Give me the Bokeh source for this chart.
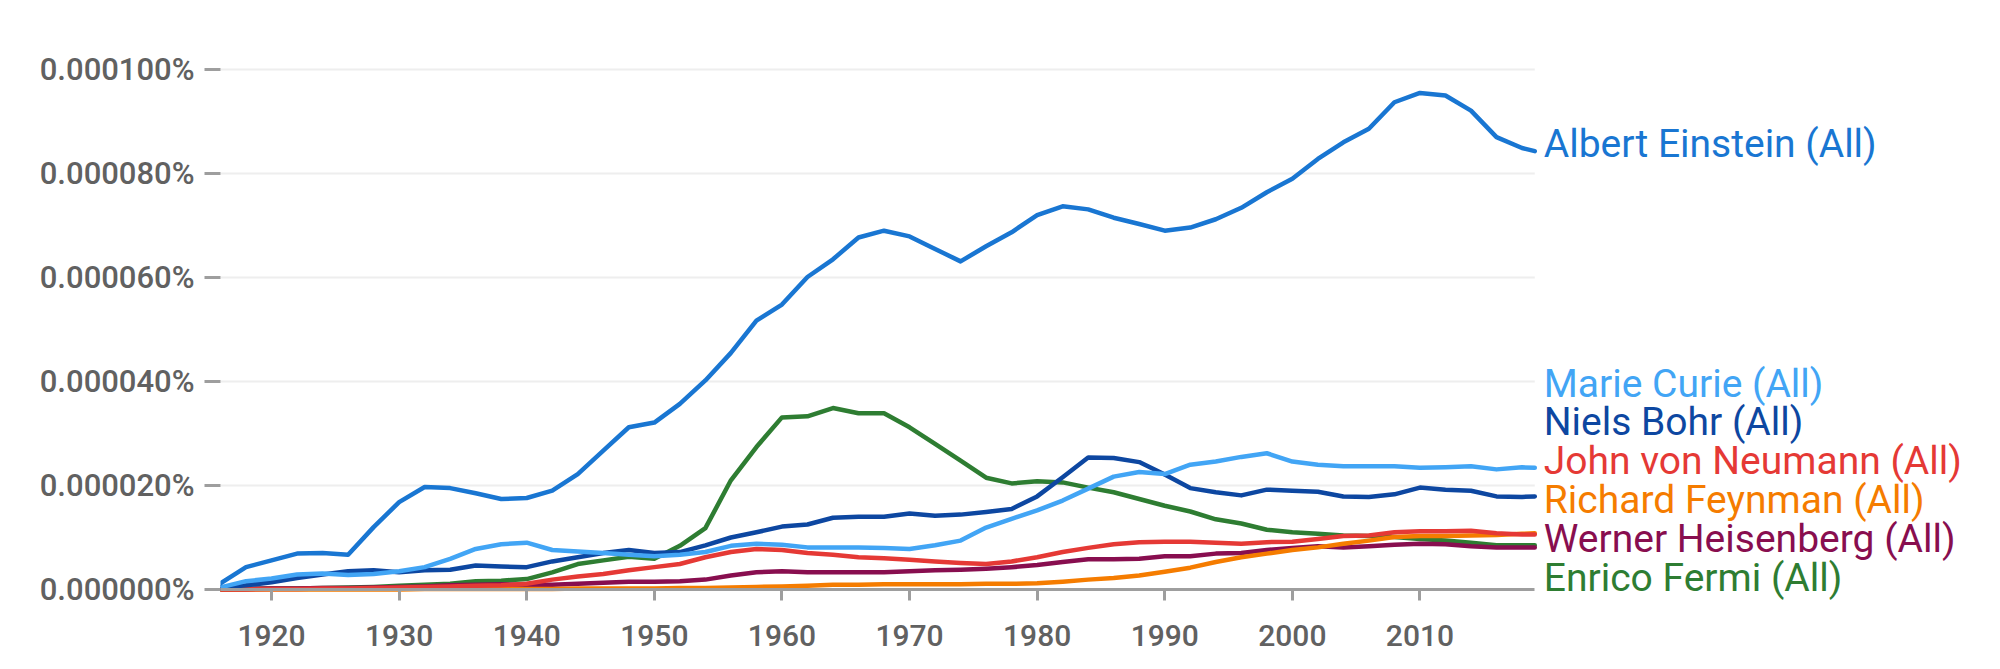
from bokeh.plotting import figure
from bokeh.models import Range1d, Label, PrintfTickFormatter, FixedTicker
from bokeh.embed import file_html
from bokeh.resources import INLINE

# values in units of 1e-6 percent (0.000001%)
years = list(range(1916, 2019, 2)) + [2019]

einstein = [1.2, 4.3, 5.6, 6.9, 7.0, 6.7, 12.0, 16.8, 19.7, 19.5,
            18.5, 17.4, 17.6, 19.0, 22.2, 26.7, 31.2, 32.1, 35.7, 40.2,
            45.5, 51.7, 54.8, 60.1, 63.5, 67.7, 69.0, 67.9, 65.5, 63.1,
            66.0, 68.7, 72.0, 73.7, 73.1, 71.5, 70.3, 69.0, 69.6, 71.2,
            73.4, 76.4, 79.0, 82.8, 86.0, 88.6, 93.7, 95.5, 95.0, 92.1,
            87.0, 84.9, 84.3]
curie = [0.4, 1.6, 2.1, 2.9, 3.1, 2.8, 3.0, 3.5, 4.3, 5.9,
         7.8, 8.7, 9.0, 7.6, 7.3, 7.0, 6.7, 6.4, 6.7, 7.2,
         8.4, 8.8, 8.6, 8.1, 8.1, 8.1, 8.0, 7.8, 8.5, 9.4,
         11.9, 13.6, 15.2, 17.1, 19.4, 21.7, 22.6, 22.2, 24.0, 24.6,
         25.5, 26.2, 24.6, 24.0, 23.7, 23.7, 23.7, 23.4, 23.5, 23.7,
         23.1, 23.5, 23.4]
bohr = [0.4, 0.8, 1.4, 2.2, 2.9, 3.5, 3.7, 3.3, 3.7, 3.8,
        4.6, 4.4, 4.3, 5.4, 6.2, 7.0, 7.6, 7.0, 7.2, 8.5,
        10.0, 11.0, 12.1, 12.5, 13.8, 14.0, 14.0, 14.6, 14.2, 14.4,
        14.9, 15.5, 17.9, 21.6, 25.4, 25.3, 24.5, 22.1, 19.5, 18.7,
        18.1, 19.2, 19.0, 18.8, 17.9, 17.8, 18.3, 19.6, 19.2, 19.0,
        17.9, 17.8, 17.9]
neumann = [0.0, 0.0, 0.1, 0.1, 0.2, 0.2, 0.3, 0.4, 0.5, 0.6,
           0.7, 0.8, 1.1, 1.9, 2.5, 3.0, 3.7, 4.3, 4.9, 6.2,
           7.2, 7.8, 7.6, 7.0, 6.7, 6.2, 6.0, 5.7, 5.4, 5.1,
           4.9, 5.4, 6.2, 7.2, 8.0, 8.7, 9.1, 9.2, 9.2, 9.0,
           8.8, 9.1, 9.2, 9.7, 10.3, 10.4, 11.0, 11.2, 11.2, 11.3,
           10.8, 10.6, 10.6]
feynman = [0.0, 0.0, 0.0, 0.0, 0.0, 0.0, 0.0, 0.0, 0.1, 0.1,
           0.1, 0.1, 0.1, 0.1, 0.2, 0.2, 0.2, 0.2, 0.3, 0.3,
           0.4, 0.5, 0.6, 0.7, 0.9, 0.9, 1.0, 1.0, 1.0, 1.0,
           1.1, 1.1, 1.2, 1.5, 1.9, 2.2, 2.7, 3.4, 4.2, 5.3,
           6.2, 6.9, 7.6, 8.1, 8.8, 9.4, 10.1, 10.3, 10.3, 10.4,
           10.5, 10.7, 10.8]
heisenberg = [0.0, 0.1, 0.2, 0.2, 0.3, 0.3, 0.4, 0.5, 0.6, 0.8,
              0.9, 1.0, 0.9, 0.9, 1.1, 1.3, 1.5, 1.5, 1.6, 1.9,
              2.7, 3.3, 3.5, 3.3, 3.3, 3.3, 3.3, 3.5, 3.7, 3.8,
              4.0, 4.3, 4.7, 5.3, 5.8, 5.8, 5.9, 6.4, 6.4, 6.9,
              7.0, 7.6, 8.0, 8.3, 8.1, 8.3, 8.6, 8.8, 8.7, 8.3,
              8.1, 8.1, 8.1]
fermi = [0.0, 0.1, 0.2, 0.2, 0.3, 0.4, 0.5, 0.7, 0.9, 1.1,
         1.6, 1.7, 2.0, 3.3, 4.9, 5.6, 6.3, 5.9, 8.4, 11.8,
         21.0, 27.4, 33.1, 33.3, 34.9, 33.9, 33.9, 31.2, 28.0, 24.8,
         21.5, 20.4, 20.8, 20.6, 19.6, 18.7, 17.4, 16.1, 15.0, 13.5,
         12.7, 11.5, 11.0, 10.7, 10.4, 10.3, 10.1, 9.7, 9.4, 9.0,
         8.5, 8.5, 8.5]

names = ["Albert Einstein (All)", "Marie Curie (All)", "Niels Bohr (All)",
         "John von Neumann (All)", "Richard Feynman (All)",
         "Werner Heisenberg (All)", "Enrico Fermi (All)"]
series = [einstein, curie, bohr, neumann, feynman, heisenberg, fermi]
colors = ["#1976D2", "#42A5F5", "#0D47A1", "#E53935", "#F57C00", "#880E4F", "#2E7D32"]

x_ticks = [1920, 1930, 1940, 1950, 1960, 1970, 1980, 1990, 2000, 2010]
y_ticks_units = [0, 20, 40, 60, 80, 100]

UNIT = 1e-6  # one unit = 0.000001 %

W, H = 1984, 653
LEFT, RIGHT, TOP, ZERO_Y, BOTTOM = 220, 10, 40, 589, 4   # page pixels
PX_PER_YEAR = 12.76
PX_PER_UNIT = 5.2
x0 = years[0]
x_end = x0 + (W - RIGHT - LEFT) / PX_PER_YEAR      # frame extends past the data for labels
y_top = (ZERO_Y - TOP) / PX_PER_UNIT
y_bot = -(H - BOTTOM - ZERO_Y) / PX_PER_UNIT        # room below zero for the x axis labels

p = figure(width=W, height=H, output_backend="svg", toolbar_location=None,
           x_range=Range1d(x0, x_end), y_range=Range1d(y_bot * UNIT, y_top * UNIT),
           min_border_left=LEFT, min_border_right=RIGHT, min_border_top=TOP,
           min_border_bottom=BOTTOM)
p.outline_line_color = None
p.background_fill_color = "white"
p.border_fill_color = "white"

tick_font = "'Roboto Medium', Roboto"
tick_color = "#616161"
grey = "#9E9E9E"

# horizontal grid lines only across the data span
for t in y_ticks_units[1:]:
    p.segment(x0=[years[0]], y0=[t * UNIT], x1=[years[-1]], y1=[t * UNIT],
              line_color="#EEEEEE", line_width=2)

# draw order: Einstein last so it sits on top
order = [6, 5, 4, 3, 2, 1, 0]
for i in order:
    ys = [v * UNIT for v in series[i]]
    p.line(years, ys, line_color=colors[i], line_width=4.5,
           line_join="round", line_cap="round")

# axes
p.xaxis.fixed_location = 0
p.xaxis.ticker = FixedTicker(ticks=x_ticks)
p.xaxis.bounds = (years[0], years[-1])
p.yaxis.ticker = FixedTicker(ticks=[t * UNIT for t in y_ticks_units])
p.yaxis.bounds = (0, 100 * UNIT)
p.yaxis.formatter = PrintfTickFormatter(format="%.6f%%")
for ax in (p.xaxis, p.yaxis):
    ax.major_label_text_font = tick_font
    ax.major_label_text_color = tick_color
    ax.major_tick_line_color = grey
    ax.major_tick_line_width = 3
    ax.major_tick_in = 0
    ax.minor_tick_line_color = None
p.xaxis.major_label_text_font_size = "30px"
p.yaxis.major_label_text_font_size = "31px"
p.xaxis.axis_line_color = grey
p.xaxis.axis_line_width = 3
p.xaxis.major_tick_out = 11
p.xaxis.major_label_standoff = 24
p.yaxis.axis_line_color = None
p.yaxis.major_tick_out = 16
p.yaxis.major_label_standoff = 10

p.xgrid.grid_line_color = None
p.ygrid.grid_line_color = None

# series labels at the right end
label_font = "Roboto"
label_size = "39px"
p.add_layout(Label(x=years[-1], y=einstein[-1] * UNIT, text=names[0],
                   x_offset=9, y_offset=7, text_align="left", text_baseline="middle",
                   text_color=colors[0], text_font=label_font,
                   text_font_size=label_size))
stack = [1, 2, 3, 4, 5, 6]  # top to bottom
n = len(stack)
for k, i in enumerate(stack):
    pos = n - 1 - k
    p.add_layout(Label(x=years[-1], y=0, text=names[i],
                       x_offset=9, y_offset=12 + 38.8 * pos,
                       text_align="left", text_baseline="middle",
                       text_color=colors[i], text_font=label_font,
                       text_font_size=label_size))

open("out.html", "w").write(file_html(p, INLINE))
